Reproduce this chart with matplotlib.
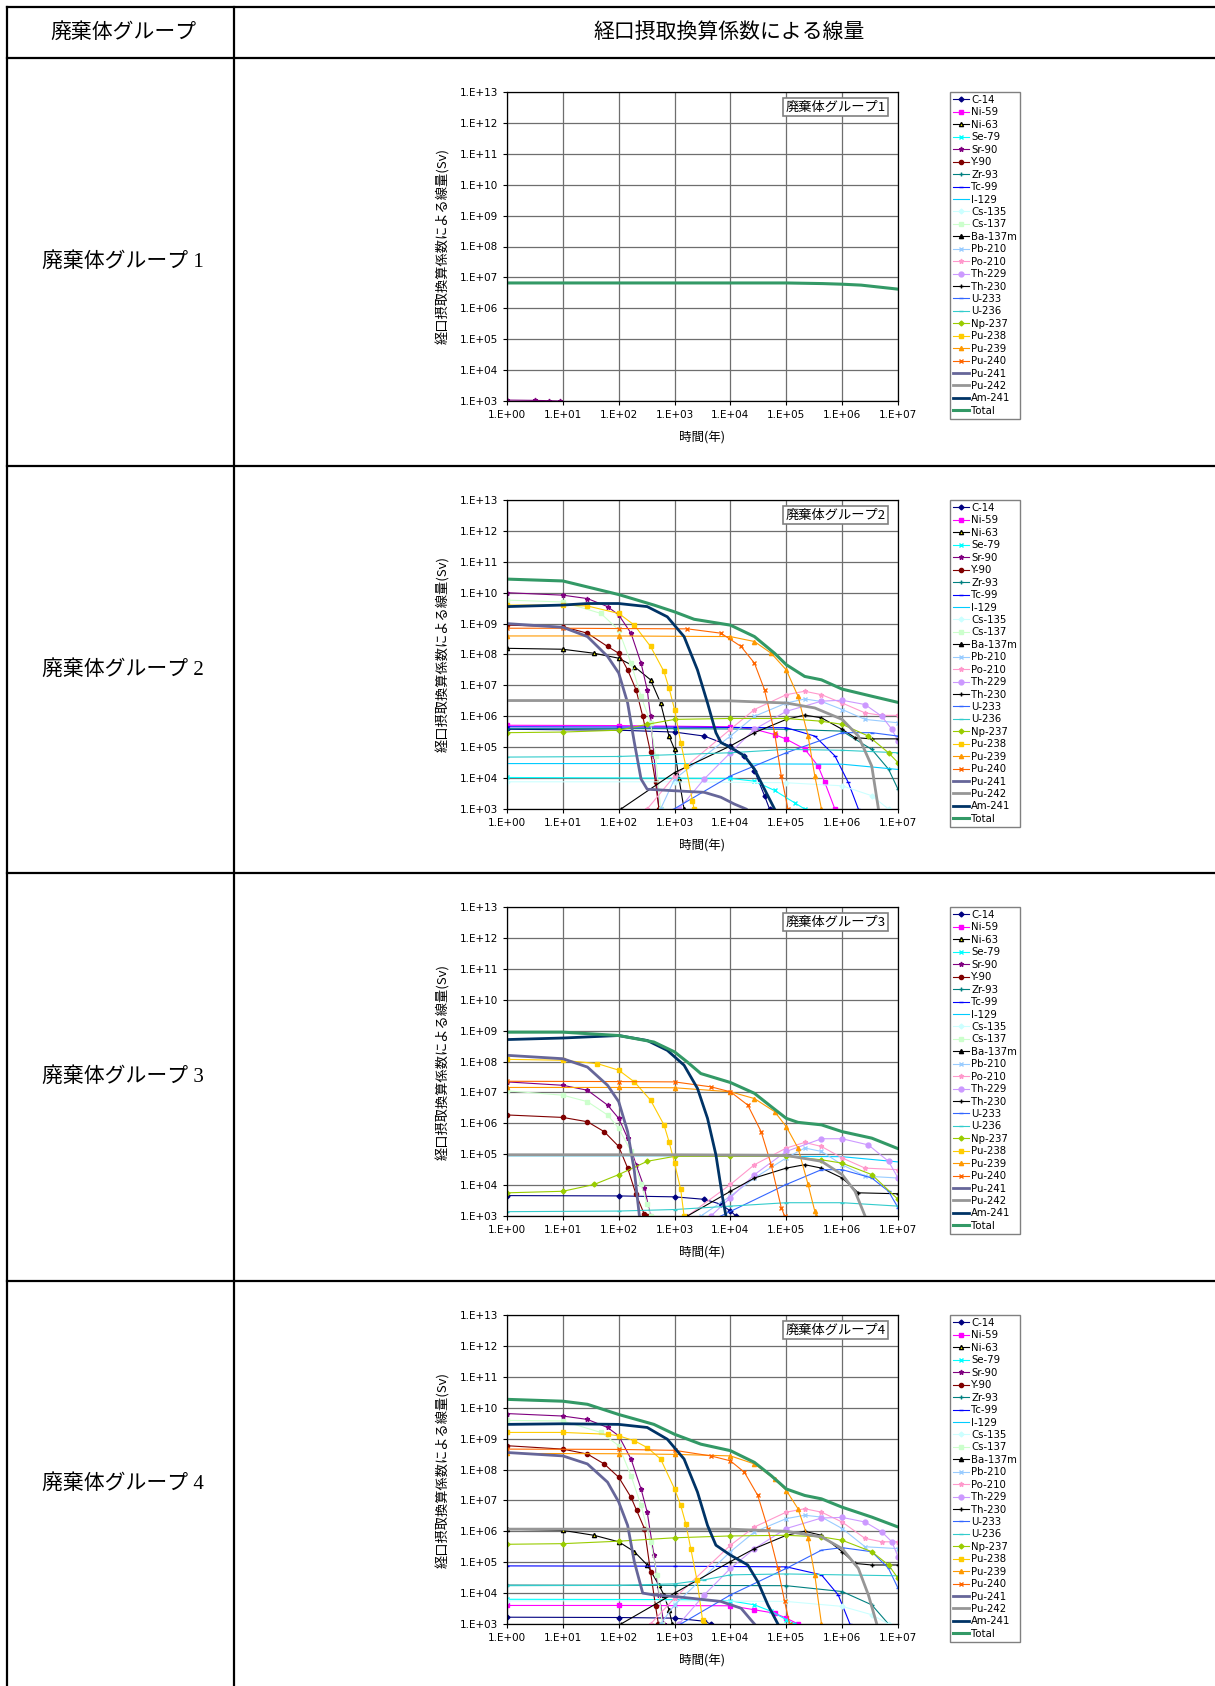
import numpy as np
import matplotlib.pyplot as plt
from matplotlib.lines import Line2D

# dose curves, (log10 year, log10 Sv)
group1 = {
    "Sr-90": [(0, 3.03), (0.5, 3.02), (0.75, 3.01), (0.95, 3.0)],
    "Total": [(0, 6.82), (2, 6.82), (4, 6.82), (5, 6.82), (5.65, 6.8), (6, 6.78), (6.34, 6.75), (7, 6.62)],
}

group2 = {
    "C-14": [(0, 5.58), (2, 5.55), (3, 5.49), (3.53, 5.36), (4, 5.04), (4.25, 4.72), (4.43, 4.24), (4.61, 3.43), (4.7, 3.0)],
    "Ni-59": [(0, 5.71), (2, 5.7), (4, 5.66), (4.43, 5.58), (4.79, 5.41), (5, 5.26), (5.33, 4.94), (5.57, 4.39), (5.69, 3.86), (5.87, 3.0)],
    "Ni-63": [(0, 8.2), (1, 8.17), (1.56, 8.04), (2, 7.88), (2.28, 7.61), (2.57, 7.18), (2.75, 6.43), (2.9, 5.36), (3, 4.93), (3.08, 3.97), (3.17, 3.0)],
    "Se-79": [(0, 4.02), (4, 3.99), (4.43, 3.9), (4.79, 3.6), (5.15, 3.2), (5.33, 3.0)],
    "Sr-90": [(0, 10.0), (1, 9.92), (1.44, 9.81), (1.8, 9.55), (2, 9.28), (2.22, 8.69), (2.4, 7.72), (2.51, 6.86), (2.57, 6.0), (2.63, 4.72), (2.72, 3.0)],
    "Y-90": [(0, 8.95), (1, 8.9), (1.44, 8.69), (1.8, 8.26), (2, 8.04), (2.16, 7.5), (2.31, 6.86), (2.43, 6.0), (2.57, 4.83), (2.66, 3.86), (2.72, 3.0)],
    "Zr-93": [(0, 5.6), (3, 5.6), (5, 5.58), (6, 5.52), (6.53, 4.93), (6.83, 4.29), (7, 3.64)],
    "Tc-99": [(0, 5.66), (3, 5.65), (5, 5.63), (5.51, 5.36), (5.87, 4.72), (6.11, 3.86), (6.29, 3.0)],
    "I-129": [(0, 4.47), (3, 4.47), (6, 4.45), (7, 4.28)],
    "Cs-135": [(0, 3.88), (3, 3.88), (5, 3.85), (6, 3.75), (6.53, 3.43), (6.83, 3.0)],
    "Cs-137": [(0, 9.76), (1, 9.7), (1.68, 9.33), (2, 8.79), (2.22, 7.72), (2.4, 6.65), (2.57, 5.79), (2.66, 4.72), (2.75, 3.0)],
    "Pb-210": [(2.75, 3.0), (3, 3.97), (4, 5.36), (4.43, 6.0), (5, 6.43), (5.33, 6.56), (5.63, 6.48), (6, 6.22), (6.41, 5.9), (7, 5.79)],
    "Po-210": [(2.51, 3.0), (3, 4.07), (4, 5.58), (4.43, 6.22), (5, 6.7), (5.33, 6.81), (5.63, 6.7), (6, 6.43), (6.41, 6.11), (6.71, 6.03), (7, 6.03)],
    "Th-229": [(3.08, 3.0), (3.53, 3.97), (4, 4.82), (4.43, 5.58), (5, 6.16), (5.63, 6.49), (6, 6.52), (6.41, 6.38), (6.71, 6.0), (6.89, 5.58), (7, 5.2)],
    "Th-230": [(2.04, 3.0), (3, 4.18), (4, 5.04), (4.43, 5.47), (5, 5.9), (5.33, 6.04), (5.63, 5.95), (6, 5.58), (6.23, 5.31), (6.53, 5.27), (7, 5.27)],
    "U-233": [(2.99, 3.0), (4, 4.07), (5, 4.82), (6, 5.47), (6.53, 5.47), (7, 5.36)],
    "U-236": [(0, 4.68), (2, 4.7), (4, 4.82), (5, 4.93), (6, 4.9), (7, 4.82)],
    "Np-237": [(0, 5.47), (1, 5.49), (2, 5.55), (2.51, 5.74), (3, 5.9), (4, 5.93), (5, 5.93), (5.63, 5.84), (6, 5.74), (6.47, 5.36), (6.83, 4.82), (7, 4.5)],
    "Pu-238": [(0, 9.6), (1, 9.6), (1.44, 9.57), (2, 9.33), (2.28, 8.95), (2.57, 8.26), (2.81, 7.45), (2.9, 6.92), (3, 6.22), (3.11, 5.15), (3.2, 4.4), (3.32, 3.27), (3.35, 3.0)],
    "Pu-239": [(0, 8.6), (2, 8.6), (4, 8.58), (4.43, 8.42), (4.73, 8.04), (5, 7.5), (5.21, 6.65), (5.39, 5.36), (5.51, 4.07), (5.63, 3.0)],
    "Pu-240": [(0, 8.85), (1, 8.85), (2, 8.84), (3.23, 8.83), (3.83, 8.69), (4.19, 8.26), (4.43, 7.72), (4.61, 6.86), (4.79, 5.47), (4.91, 4.07), (5.03, 3.0)],
    "Pu-241": [(0, 9.0), (1, 8.88), (1.44, 8.58), (1.8, 7.94), (2, 7.4), (2.16, 6.43), (2.28, 5.15), (2.4, 3.97), (2.51, 3.64), (3, 3.59), (3.53, 3.54), (3.83, 3.38), (4.07, 3.16), (4.28, 3.0)],
    "Pu-242": [(0, 6.51), (2, 6.51), (4, 6.5), (5, 6.43), (5.51, 6.27), (6, 5.9), (6.29, 5.36), (6.53, 4.39), (6.65, 3.0)],
    "Am-241": [(0, 9.55), (1, 9.6), (1.44, 9.65), (2, 9.65), (2.51, 9.55), (2.87, 9.22), (3.17, 8.58), (3.41, 7.5), (3.59, 6.43), (3.74, 5.47), (3.83, 5.15), (4, 4.99), (4.25, 4.72), (4.43, 4.29), (4.61, 3.64), (4.79, 3.0)],
    "Total": [(0, 10.44), (1, 10.38), (2, 9.94), (2.63, 9.6), (3, 9.38), (3.35, 9.14), (4, 8.95), (4.43, 8.58), (4.79, 8.04), (5, 7.67), (5.33, 7.29), (5.63, 7.18), (6, 6.88), (6.53, 6.65), (7, 6.45)],
}

group3 = {
    "C-14": [(0, 3.66), (2, 3.65), (3, 3.62), (3.53, 3.54), (3.83, 3.38), (4, 3.16), (4.1, 3.0)],
    "Sr-90": [(0, 7.34), (1, 7.23), (1.44, 7.07), (1.8, 6.59), (2, 6.16), (2.16, 5.52), (2.31, 4.66), (2.46, 3.91), (2.57, 3.0)],
    "Y-90": [(0, 6.27), (1, 6.19), (1.44, 6.05), (1.74, 5.73), (2, 5.25), (2.16, 4.55), (2.31, 3.7), (2.46, 3.05), (2.51, 3.0)],
    "I-129": [(0, 4.95), (3, 4.95), (6, 4.92), (7, 4.75)],
    "Cs-137": [(0, 7.05), (1, 6.91), (1.44, 6.7), (1.8, 6.27), (2, 5.84), (2.22, 5.09), (2.4, 4.02), (2.51, 3.38), (2.57, 3.0)],
    "Pb-210": [(3.47, 3.0), (4, 3.64), (4.43, 4.23), (5, 4.88), (5.33, 5.2), (5.63, 5.09), (6, 4.66), (6.41, 4.29), (7, 4.23)],
    "Po-210": [(3.23, 3.0), (4, 4.02), (4.43, 4.66), (5, 5.2), (5.33, 5.38), (5.63, 5.25), (6, 4.88), (6.41, 4.55), (7, 4.5)],
    "Th-229": [(3.65, 3.0), (4, 3.59), (4.43, 4.34), (5, 5.09), (5.63, 5.5), (6, 5.5), (6.47, 5.3), (6.83, 4.77), (7, 4.23)],
    "Th-230": [(3.23, 3.0), (4, 3.8), (4.43, 4.23), (5, 4.55), (5.33, 4.66), (5.63, 4.55), (6, 4.23), (6.29, 3.75), (7, 3.72)],
    "U-233": [(3.83, 3.0), (5, 4.02), (5.63, 4.5), (6, 4.5), (6.53, 4.23), (6.83, 3.8), (7, 3.27)],
    "U-236": [(0, 3.14), (2, 3.16), (3, 3.21), (4, 3.32), (5, 3.43), (6, 3.43), (7, 3.32)],
    "Np-237": [(0, 3.75), (1, 3.8), (1.56, 4.02), (2, 4.34), (2.51, 4.77), (3, 4.93), (4, 4.93), (5, 4.93), (5.63, 4.82), (6, 4.71), (6.53, 4.34), (7, 3.54)],
    "Pu-238": [(0, 8.07), (1, 8.04), (1.62, 7.93), (2, 7.72), (2.28, 7.34), (2.57, 6.75), (2.81, 5.95), (2.9, 5.41), (3, 4.71), (3.11, 3.86), (3.17, 3.0)],
    "Pu-239": [(0, 7.16), (2, 7.16), (3, 7.15), (4, 7.02), (4.43, 6.8), (4.79, 6.38), (5, 5.89), (5.21, 5.2), (5.39, 4.02), (5.51, 3.16), (5.54, 3.0)],
    "Pu-240": [(0, 7.36), (2, 7.35), (3, 7.34), (3.65, 7.18), (4, 7.02), (4.31, 6.59), (4.55, 5.73), (4.73, 4.66), (4.91, 3.27), (4.97, 3.0)],
    "Pu-241": [(0, 8.2), (1, 8.09), (1.44, 7.82), (1.8, 7.23), (2, 6.7), (2.16, 5.73), (2.28, 4.45), (2.37, 3.0)],
    "Pu-242": [(0, 4.98), (3, 4.98), (5, 4.96), (5.63, 4.77), (6, 4.34), (6.23, 3.8), (6.41, 3.0)],
    "Am-241": [(0, 8.71), (1, 8.76), (2, 8.84), (2.51, 8.68), (2.87, 8.36), (3.17, 7.88), (3.41, 7.13), (3.59, 6.16), (3.74, 4.98), (3.86, 3.59), (3.92, 3.0)],
    "Total": [(0, 8.95), (1, 8.95), (2, 8.84), (2.63, 8.63), (3, 8.31), (3.23, 7.98), (3.47, 7.61), (4, 7.32), (4.43, 6.97), (4.73, 6.54), (5, 6.16), (5.21, 6.03), (5.63, 5.95), (6, 5.73), (6.53, 5.52), (7, 5.18)],
}

group4 = {
    "C-14": [(0, 3.22), (2, 3.21), (3, 3.19), (3.53, 3.09), (3.65, 3.0)],
    "Ni-59": [(0, 3.6), (2, 3.6), (4, 3.59), (4.43, 3.46), (4.79, 3.35), (5, 3.19), (5.21, 3.0)],
    "Ni-63": [(0, 6.07), (1, 6.03), (1.56, 5.87), (2, 5.66), (2.28, 5.34), (2.51, 4.91), (2.72, 4.26), (2.81, 3.94), (2.9, 3.46), (2.96, 3.0)],
    "Se-79": [(0, 3.8), (3, 3.79), (4, 3.75), (4.43, 3.62), (4.73, 3.41), (5, 3.14), (5.14, 3.0)],
    "Sr-90": [(0, 9.81), (1, 9.73), (1.44, 9.62), (1.8, 9.36), (2, 9.09), (2.22, 8.34), (2.4, 7.37), (2.51, 6.62), (2.63, 5.23), (2.72, 3.94), (2.81, 3.0)],
    "Y-90": [(0, 8.77), (1, 8.66), (1.44, 8.5), (1.74, 8.18), (2, 7.75), (2.22, 7.1), (2.32, 6.68), (2.46, 6.09), (2.57, 4.69), (2.66, 3.57), (2.71, 3.0)],
    "Zr-93": [(0, 4.26), (3, 4.25), (5, 4.24), (6, 4.05), (6.53, 3.62), (6.83, 3.0)],
    "Tc-99": [(0, 4.88), (3, 4.87), (5, 4.85), (5.63, 4.59), (5.93, 3.94), (6.14, 3.0)],
    "Cs-135": [(0, 3.75), (3, 3.75), (5, 3.73), (6, 3.57), (6.53, 3.3), (6.83, 3.0)],
    "Cs-137": [(0, 9.59), (1, 9.57), (1.68, 9.2), (2, 8.77), (2.22, 7.8), (2.4, 6.84), (2.57, 5.66), (2.69, 4.59), (2.78, 3.0)],
    "Pb-210": [(2.75, 3.0), (3, 3.62), (4, 5.34), (4.43, 5.98), (5, 6.41), (5.33, 6.52), (5.63, 6.46), (6, 6.09), (6.41, 5.5), (7, 5.44)],
    "Po-210": [(2.57, 3.0), (3, 3.84), (4, 5.55), (4.43, 6.14), (5, 6.62), (5.33, 6.73), (5.63, 6.62), (6, 6.3), (6.41, 5.77), (6.71, 5.66), (7, 5.66)],
    "Th-229": [(3.08, 3.0), (3.53, 3.94), (4, 4.8), (4.43, 5.44), (5, 6.09), (5.63, 6.43), (6, 6.45), (6.41, 6.3), (6.71, 5.98), (6.89, 5.66), (7, 5.18)],
    "Th-230": [(2.04, 3.0), (3, 4.0), (4, 5.02), (4.43, 5.44), (5, 5.87), (5.33, 6.0), (5.63, 5.87), (6, 5.34), (6.23, 4.96), (6.53, 4.91), (7, 4.91)],
    "U-233": [(3.11, 3.0), (4, 3.94), (5, 4.8), (5.63, 5.39), (6, 5.47), (6.53, 5.34), (6.83, 4.8), (7, 4.16)],
    "U-236": [(0, 4.24), (2, 4.25), (3, 4.3), (3.53, 4.43), (4, 4.59), (5, 4.62), (7, 4.56)],
    "Np-237": [(0, 5.58), (1, 5.6), (2, 5.68), (3, 5.79), (4, 5.85), (5, 5.87), (5.63, 5.82), (6, 5.71), (6.53, 5.34), (6.83, 4.91), (7, 4.48)],
    "Pu-238": [(0, 9.2), (1, 9.2), (1.8, 9.14), (2, 9.09), (2.28, 8.93), (2.51, 8.71), (2.75, 8.34), (3, 7.37), (3.11, 6.84), (3.2, 6.25), (3.29, 5.44), (3.4, 4.43), (3.5, 3.14), (3.52, 3.0)],
    "Pu-239": [(0, 8.52), (2, 8.51), (3, 8.49), (4, 8.44), (4.43, 8.18), (4.79, 7.69), (5, 7.32), (5.21, 6.73), (5.39, 5.77), (5.51, 4.59), (5.63, 3.0)],
    "Pu-240": [(0, 8.66), (2, 8.65), (3, 8.62), (3.65, 8.44), (4, 8.28), (4.25, 7.91), (4.49, 7.16), (4.67, 6.09), (4.85, 4.8), (4.97, 3.73), (5.06, 3.0)],
    "Pu-241": [(0, 8.55), (1, 8.44), (1.44, 8.18), (1.8, 7.59), (2, 6.95), (2.16, 6.19), (2.28, 5.01), (2.43, 4.0), (2.63, 3.94), (3, 3.89), (3.83, 3.73), (4.19, 3.51), (4.43, 3.0)],
    "Pu-242": [(0, 6.07), (2, 6.07), (4, 6.07), (5, 6.0), (5.63, 5.82), (6, 5.44), (6.29, 4.8), (6.47, 3.94), (6.62, 3.0)],
    "Am-241": [(0, 9.46), (1, 9.48), (2, 9.46), (2.51, 9.36), (2.87, 8.98), (3.17, 8.34), (3.41, 7.27), (3.59, 6.19), (3.74, 5.55), (4, 5.23), (4.31, 4.91), (4.49, 4.37), (4.67, 3.62), (4.85, 3.0)],
    "Total": [(0, 10.27), (1, 10.21), (1.44, 10.11), (2, 9.78), (2.63, 9.46), (3, 9.14), (3.47, 8.82), (4, 8.61), (4.43, 8.23), (4.73, 7.8), (5, 7.37), (5.33, 7.16), (5.63, 7.05), (6, 6.78), (6.53, 6.46), (7, 6.14)],
}

groups = [group1, group2, group3, group4]
group_names = ["廃棄体グループ1", "廃棄体グループ2", "廃棄体グループ3", "廃棄体グループ4"]
row_names = ["廃棄体グループ 1", "廃棄体グループ 2", "廃棄体グループ 3", "廃棄体グループ 4"]
nuclides = ["C-14", "Ni-59", "Ni-63", "Se-79", "Sr-90", "Y-90", "Zr-93", "Tc-99", "I-129",
            "Cs-135", "Cs-137", "Ba-137m", "Pb-210", "Po-210", "Th-229", "Th-230", "U-233",
            "U-236", "Np-237", "Pu-238", "Pu-239", "Pu-240", "Pu-241", "Pu-242", "Am-241", "Total"]
xtick_labels = ["1.E+%02d" % i for i in range(0, 8)]
ytick_labels = ["1.E+%02d" % i for i in range(3, 14)]

styles = {
    "C-14": dict(color="#000080", marker="D", ms=2.5),
    "Ni-59": dict(color="#FF00FF", marker="s", ms=3.5),
    "Ni-63": dict(color="#000000", marker="^", mfc="#FFFF00", ms=3),
    "Se-79": dict(color="#00FFFF", marker="x", ms=3),
    "Sr-90": dict(color="#800080", marker="*", ms=3.5),
    "Y-90": dict(color="#800000", marker="o", ms=3),
    "Zr-93": dict(color="#008080", marker="+", ms=3.5),
    "Tc-99": dict(color="#0000FF", marker="_", ms=3),
    "I-129": dict(color="#00CCFF"),
    "Cs-135": dict(color="#CCFFFF", marker="D", ms=2.5),
    "Cs-137": dict(color="#CCFFCC", marker="s", ms=3.5),
    "Ba-137m": dict(color="#000000", marker="^", ms=3),
    "Pb-210": dict(color="#99CCFF", marker="x", ms=3),
    "Po-210": dict(color="#FF99CC", marker="*", ms=3.5),
    "Th-229": dict(color="#CC99FF", marker="o", ms=3.5),
    "Th-230": dict(color="#000000", marker="+", ms=3.5),
    "U-233": dict(color="#3366FF", marker="_", ms=3),
    "U-236": dict(color="#33CCCC", marker="_", ms=3),
    "Np-237": dict(color="#99CC00", marker="D", ms=2.5),
    "Pu-238": dict(color="#FFCC00", marker="s", ms=3.5),
    "Pu-239": dict(color="#FF9900", marker="^", ms=3),
    "Pu-240": dict(color="#FF6600", marker="x", ms=3),
    "Pu-241": dict(color="#666699", lw=2),
    "Pu-242": dict(color="#969696", lw=2),
    "Am-241": dict(color="#003366", lw=2),
    "Total": dict(color="#339966", lw=2.2),
}

JP = ["Noto Sans CJK JP", "DejaVu Sans"]
W, H = 1215, 1686
fig = plt.figure(figsize=(W / 100, H / 100), dpi=100)

# table frame, drawn in pixel coordinates
bg = fig.add_axes([0, 0, 1, 1])
bg.set_xlim(0, W)
bg.set_ylim(H, 0)
bg.axis("off")
row_lines = [6.5, 58, 466, 873, 1281]
for y in row_lines:
    bg.plot([7, W], [y, y], color="black", lw=1.6)
for x in [7, 234]:
    bg.plot([x, x], [6.5, H], color="black", lw=1.6)
bg.text(123, 32, "廃棄体グループ", ha="center", va="center", fontsize=15, family=JP)
bg.text(729, 32, "経口摂取換算係数による線量", ha="center", va="center", fontsize=15, family=JP)

for i, data in enumerate(groups):
    row_top = row_lines[i + 1]
    row_bot = row_lines[i + 2] if i < 3 else H
    bg.text(123, (row_top + row_bot) / 2, row_names[i], ha="center", va="center",
            fontsize=15, family=["Liberation Serif", "Noto Sans CJK JP"])

    top = row_top + 34
    ax = fig.add_axes([507 / W, 1 - (top + 309) / H, 391 / W, 309 / H])
    ax.set_xscale("log")
    ax.set_yscale("log")
    for name in nuclides:
        if name in data:
            pts = np.array(data[name])
            st = dict(lw=0.8)
            st.update(styles[name])
            ax.plot(10 ** pts[:, 0], 10 ** pts[:, 1], **st)
    ax.set_xlim(1, 1e7)
    ax.set_ylim(1e3, 1e13)
    ax.set_xticks(10.0 ** np.arange(0, 8))
    ax.set_xticklabels(xtick_labels)
    ax.set_yticks(10.0 ** np.arange(3, 14))
    ax.set_yticklabels(ytick_labels)
    ax.minorticks_off()
    ax.tick_params(labelsize=7.5, length=3, width=0.8)
    ax.grid(True, color="#6e6e6e", lw=0.9)
    ax.set_axisbelow(True)
    for sp in ax.spines.values():
        sp.set_linewidth(0.9)
    ax.set_ylabel("経口摂取換算係数による線量(Sv)", fontsize=9.5, family=JP)
    ax.yaxis.set_label_coords(-0.145, 0.5)
    ax.set_xlabel("時間(年)", fontsize=9, family=JP)
    ax.xaxis.set_label_coords(0.5, -0.1)
    ax.text(0.968, 0.972, group_names[i], transform=ax.transAxes, ha="right", va="top",
            fontsize=9.5, family=JP,
            bbox=dict(boxstyle="square,pad=0.2", fc="white", ec="#808080", lw=1.2))

    handles = []
    for name in nuclides:
        st = dict(lw=0.8)
        st.update(styles[name])
        handles.append(Line2D([], [], label=name, **st))
    ax.legend(handles=handles, loc="upper left", bbox_to_anchor=(950 / W, 1 - top / H),
              bbox_transform=fig.transFigure, borderaxespad=0, fontsize=7.3,
              labelspacing=0.24, handlelength=1.6, handletextpad=0.2, borderpad=0.3,
              fancybox=False, edgecolor="#808080", framealpha=1)

fig.savefig("out.png", dpi=100)
